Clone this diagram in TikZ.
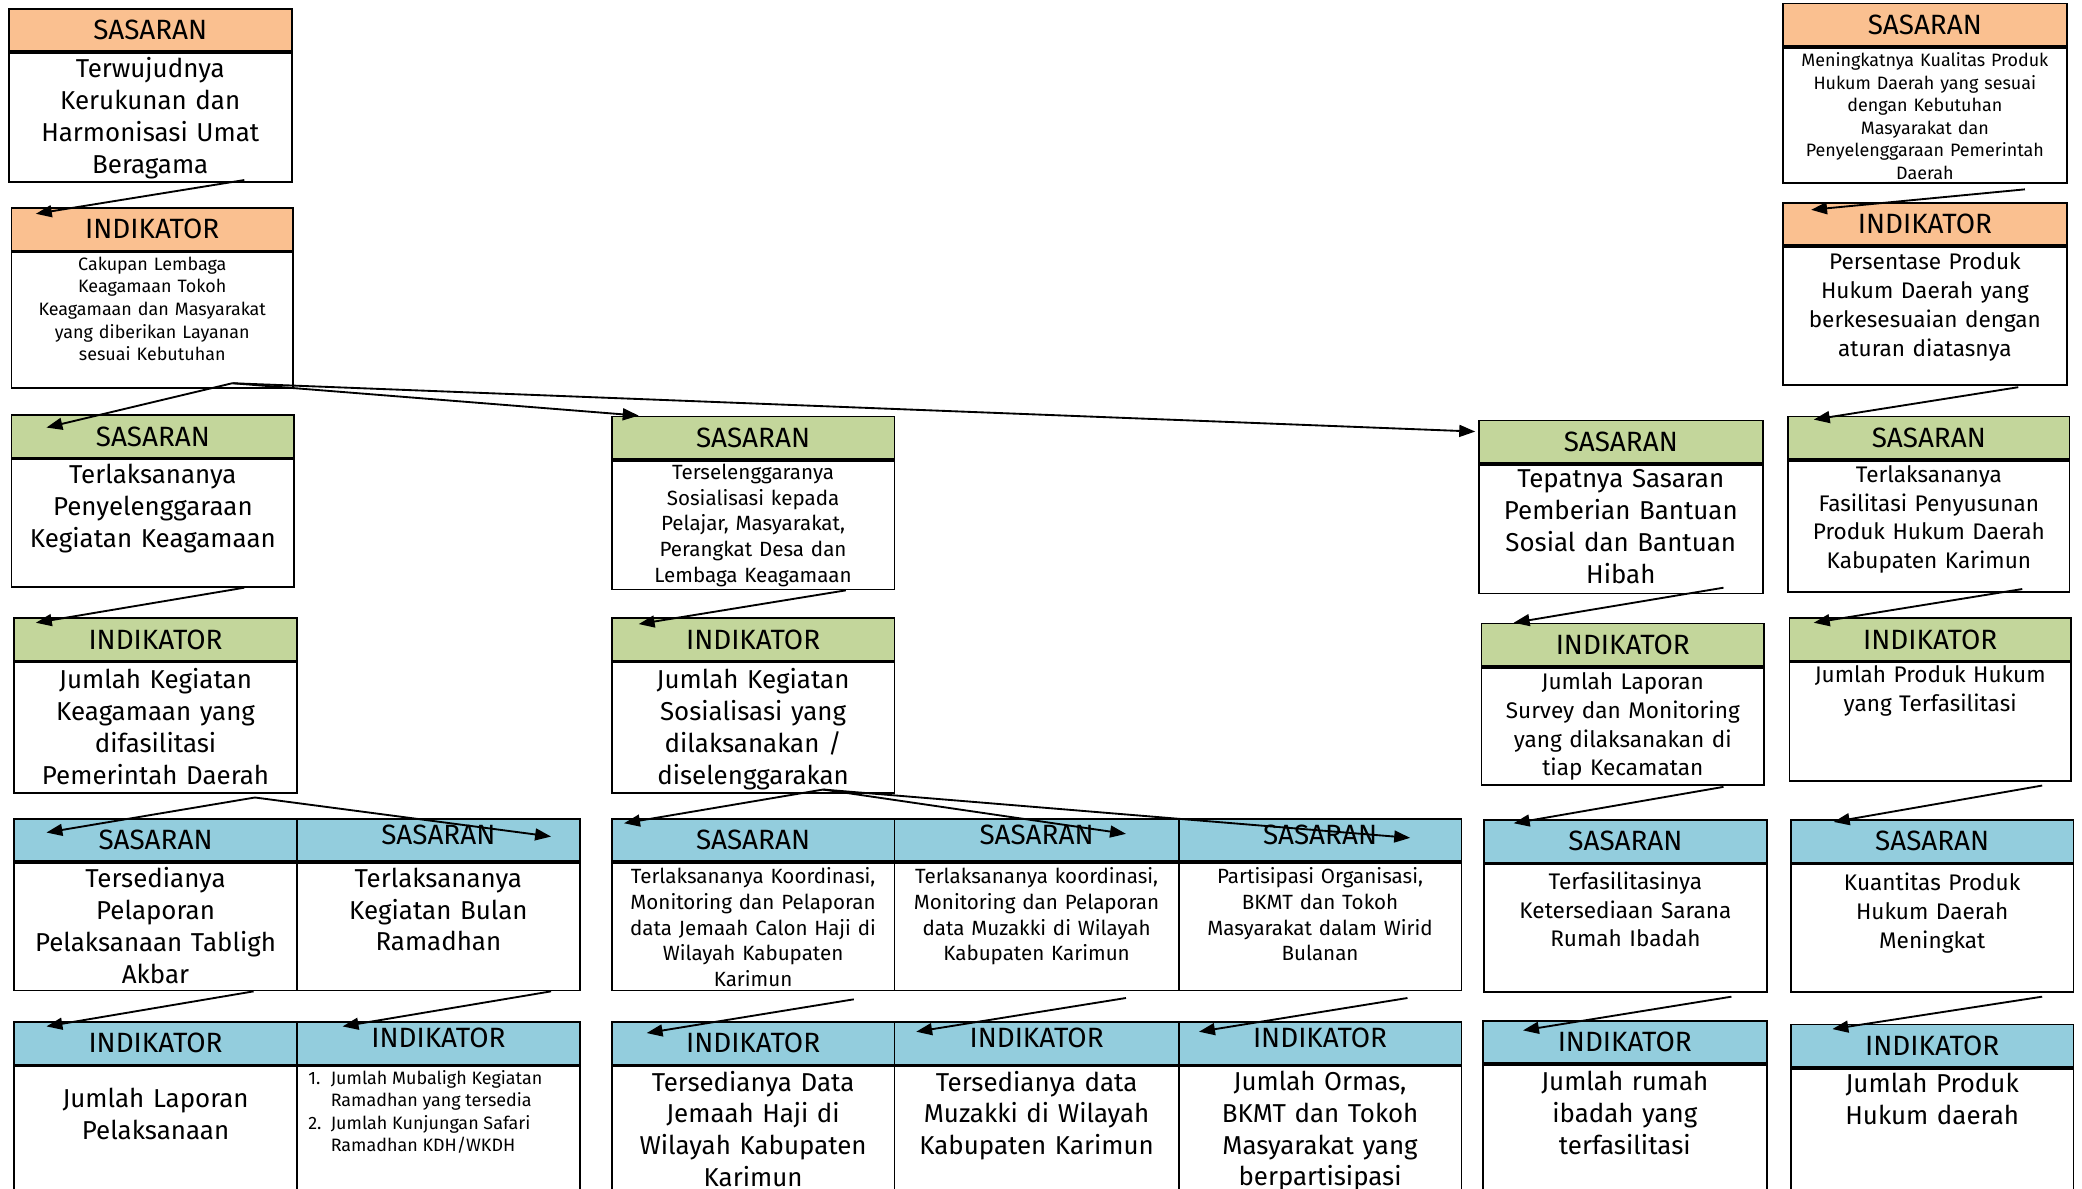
\documentclass[tikz,border=0pt]{standalone}
\usepackage{fontspec}
\setmainfont{Fira Sans}
\usetikzlibrary{arrows.meta}

\definecolor{oranye}{HTML}{FAC090}
\definecolor{hijau}{HTML}{C3D69B}
\definecolor{biru}{HTML}{93CDDD}

\newcommand{\hurufkepala}{\fontsize{21}{24}\selectfont}
\newcommand{\hurufbesar}{\fontsize{19.5}{24}\selectfont}
\newcommand{\hurufsedang}{\fontsize{17}{21.7}\selectfont}
\newcommand{\hurufkecil}{\fontsize{15.5}{19.3}\selectfont}
\newcommand{\hurufmini}{\fontsize{13.5}{17}\selectfont}
\newcommand{\naik}[1]{\raisebox{4pt}[\height][\depth]{#1}}

\begin{document}
\begin{tikzpicture}[x=1pt, y=-1pt,
    kepala/.style={draw, line width=1.3pt, anchor=north west, minimum height=32pt, minimum width=213pt, inner sep=0pt, font=\hurufkepala},
    badan/.style={draw, line width=1.3pt, anchor=north, minimum width=213pt, inner sep=0pt},
    teks/.style={anchor=north, align=center, text width=209pt, inner sep=0pt},
    panah/.style={line width=1.4pt, -{Triangle[length=12pt,width=9pt]}}]

    \useasboundingbox (0,0) rectangle (1568,895);

    % kolom kiri, oranye
    \node[kepala, fill=oranye] (os1) at (6,6) {SASARAN};
    \node[badan, minimum height=97pt] (os1b) at (os1.south) {};
    \node[teks, font=\hurufbesar] (os1t) at ([yshift=-4pt]os1b.north) {Terwujudnya\\Kerukunan dan\\Harmonisasi Umat\\Beragama};

    \node[kepala, fill=oranye, minimum width=212pt] (oi1) at (8,156) {INDIKATOR};
    \node[badan, minimum width=212pt, minimum height=102pt] (oi1b) at (oi1.south) {};
    \node[teks, font=\hurufmini] (oi1t) at ([yshift=-4pt]oi1b.north) {Cakupan Lembaga\\Keagamaan Tokoh\\Keagamaan dan Masyarakat\\yang diberikan Layanan\\sesuai Kebutuhan};

    % kolom kanan, oranye
    \node[kepala, fill=oranye, minimum width=214pt] (os2) at (1342,2) {SASARAN};
    \node[badan, minimum width=214pt, minimum height=102pt] (os2b) at (os2.south) {};
    \node[teks, font=\hurufmini] (os2t) at ([yshift=-4pt]os2b.north) {Meningkatnya Kualitas Produk\\Hukum Daerah yang sesuai\\dengan Kebutuhan\\Masyarakat dan\\Penyelenggaraan Pemerintah\\Daerah};

    \node[kepala, fill=oranye, minimum width=214pt] (oi2) at (1342,152) {INDIKATOR};
    \node[badan, minimum width=214pt, minimum height=104pt] (oi2b) at (oi2.south) {};
    \node[teks, font=\hurufsedang] (oi2t) at ([yshift=-5pt]oi2b.north) {Persentase Produk\\Hukum Daerah yang\\berkesesuaian dengan\\aturan diatasnya};

    % sasaran hijau
    \node[kepala, fill=hijau] (gs1) at (8,312) {SASARAN};
    \node[badan, minimum height=96pt] (gs1b) at (gs1.south) {};
    \node[teks, font=\hurufbesar] (gs1t) at ([yshift=-4pt]gs1b.north) {Terlaksananya\\Penyelenggaraan\\Kegiatan Keagamaan};

    \node[kepala, fill=hijau] (gs2) at (460,313) {SASARAN};
    \node[badan, minimum height=97pt] (gs2b) at (gs2.south) {};
    \node[teks, font=\hurufkecil] (gs2t) at ([yshift=-3pt]gs2b.north) {Terselenggaranya\\Sosialisasi kepada\\Pelajar, Masyarakat,\\Perangkat Desa dan\\Lembaga Keagamaan};

    \node[kepala, fill=hijau, minimum width=214pt] (gs3) at (1113,316) {SASARAN};
    \node[badan, minimum width=214pt, minimum height=97pt] (gs3b) at (gs3.south) {};
    \node[teks, font=\hurufbesar] (gs3t) at ([yshift=-4pt]gs3b.north) {Tepatnya Sasaran\\Pemberian Bantuan\\Sosial dan Bantuan\\Hibah};

    \node[kepala, fill=hijau, minimum width=212pt] (gs4) at (1346,313) {SASARAN};
    \node[badan, minimum width=212pt, minimum height=99pt] (gs4b) at (gs4.south) {};
    \node[teks, font=\hurufsedang] (gs4t) at ([yshift=-4pt]gs4b.north) {Terlaksananya\\Fasilitasi Penyusunan\\Produk Hukum Daerah\\Kabupaten Karimun};

    % indikator hijau
    \node[kepala, fill=hijau] (gi1) at (10,465) {INDIKATOR};
    \node[badan, minimum height=98pt] (gi1b) at (gi1.south) {};
    \node[teks, font=\hurufbesar] (gi1t) at ([yshift=-5pt]gi1b.north) {Jumlah Kegiatan\\Keagamaan yang\\difasilitasi\\Pemerintah Daerah};

    \node[kepala, fill=hijau] (gi2) at (460,465) {INDIKATOR};
    \node[badan, minimum height=98pt] (gi2b) at (gi2.south) {};
    \node[teks, font=\hurufbesar] (gi2t) at ([yshift=-5pt]gi2b.north) {Jumlah Kegiatan\\Sosialisasi yang\\dilaksanakan /\\diselenggarakan};

    \node[kepala, fill=hijau] (gi3) at (1115,469) {INDIKATOR};
    \node[badan, minimum height=88pt] (gi3b) at (gi3.south) {};
    \node[teks, font=\hurufsedang] (gi3t) at ([yshift=-4pt]gi3b.north) {Jumlah Laporan\\Survey dan Monitoring\\yang dilaksanakan di\\tiap Kecamatan};

    \node[kepala, fill=hijau, minimum width=212pt] (gi4) at (1347,465) {INDIKATOR};
    \node[badan, minimum width=212pt, minimum height=89pt] (gi4b) at (gi4.south) {};
    \node[teks, font=\hurufsedang] (gi4t) at ([yshift=-3pt]gi4b.north) {Jumlah Produk Hukum\\yang Terfasilitasi};

    % sasaran biru
    \node[kepala, fill=biru] (bs1) at (10,616) {SASARAN};
    \node[badan, minimum height=96pt] (bs1b) at (bs1.south) {};
    \node[teks, font=\hurufbesar] (bs1t) at ([yshift=-4pt]bs1b.north) {Tersedianya\\Pelaporan\\Pelaksanaan Tabligh\\Akbar};

    \node[kepala, fill=biru] (bs2) at (223,616) {\naik{SASARAN}};
    \node[badan, minimum height=96pt] (bs2b) at (bs2.south) {};
    \node[teks, font=\hurufbesar] (bs2t) at ([yshift=-4pt]bs2b.north) {Terlaksananya\\Kegiatan Bulan\\Ramadhan};

    \node[kepala, fill=biru] (bs3) at (460,616) {SASARAN};
    \node[badan, minimum height=96pt] (bs3b) at (bs3.south) {};
    \node[teks, font=\hurufkecil] (bs3t) at ([yshift=-4pt]bs3b.north) {Terlaksananya Koordinasi,\\Monitoring dan Pelaporan\\data Jemaah Calon Haji di\\Wilayah Kabupaten\\Karimun};

    \node[kepala, fill=biru, minimum width=214pt] (bs4) at (673,616) {\naik{SASARAN}};
    \node[badan, minimum width=214pt, minimum height=96pt] (bs4b) at (bs4.south) {};
    \node[teks, font=\hurufkecil] (bs4t) at ([yshift=-4pt]bs4b.north) {Terlaksananya koordinasi,\\Monitoring dan Pelaporan\\data Muzakki di Wilayah\\Kabupaten Karimun};

    \node[kepala, fill=biru] (bs5) at (887,616) {\naik{SASARAN}};
    \node[badan, minimum height=96pt] (bs5b) at (bs5.south) {};
    \node[teks, font=\hurufkecil] (bs5t) at ([yshift=-4pt]bs5b.north) {Partisipasi Organisasi,\\BKMT dan Tokoh\\Masyarakat dalam Wirid\\Bulanan};

    \node[kepala, fill=biru] (bs6) at (1117,617) {SASARAN};
    \node[badan, minimum height=96pt] (bs6b) at (bs6.south) {};
    \node[teks, font=\hurufsedang] (bs6t) at ([yshift=-6pt]bs6b.north) {Terfasilitasinya\\Ketersediaan Sarana\\Rumah Ibadah};

    \node[kepala, fill=biru] (bs7) at (1348,617) {SASARAN};
    \node[badan, minimum height=96pt] (bs7b) at (bs7.south) {};
    \node[teks, font=\hurufsedang] (bs7t) at ([yshift=-7pt]bs7b.north) {Kuantitas Produk\\Hukum Daerah\\Meningkat};

    % indikator biru (terpotong di bawah)
    \node[kepala, fill=biru] (bi1) at (10,769) {INDIKATOR};
    \node[badan, minimum height=130pt] (bi1b) at (bi1.south) {};
    \node[teks, font=\hurufbesar] (bi1t) at ([yshift=-17pt]bi1b.north) {Jumlah Laporan\\Pelaksanaan};

    \node[kepala, fill=biru] (bi2) at (223,769) {\naik{INDIKATOR}};
    \node[badan, minimum height=130pt] (bi2b) at (bi2.south) {};
    \node[anchor=north west, inner sep=0pt, font=\hurufmini] (bi2t) at ([xshift=9pt,yshift=-2pt]bi2b.north west) {%
        \begin{tabular}{@{}l@{\hspace{7pt}}l@{}}
        1. & Jumlah Mubaligh Kegiatan\\
           & Ramadhan yang tersedia\\
        2. & Jumlah Kunjungan Safari\\
           & Ramadhan KDH/WKDH
        \end{tabular}};

    \node[kepala, fill=biru] (bi3) at (460,769) {INDIKATOR};
    \node[badan, minimum height=130pt] (bi3b) at (bi3.south) {};
    \node[teks, font=\hurufbesar] (bi3t) at ([yshift=-4pt]bi3b.north) {Tersedianya Data\\Jemaah Haji di\\Wilayah Kabupaten\\Karimun};

    \node[kepala, fill=biru, minimum width=214pt] (bi4) at (673,769) {\naik{INDIKATOR}};
    \node[badan, minimum width=214pt, minimum height=130pt] (bi4b) at (bi4.south) {};
    \node[teks, font=\hurufbesar] (bi4t) at ([yshift=-4pt]bi4b.north) {Tersedianya data\\Muzakki di Wilayah\\Kabupaten Karimun};

    \node[kepala, fill=biru] (bi5) at (887,769) {\naik{INDIKATOR}};
    \node[badan, minimum height=130pt] (bi5b) at (bi5.south) {};
    \node[teks, font=\hurufbesar] (bi5t) at ([yshift=-4pt]bi5b.north) {Jumlah Ormas,\\BKMT dan Tokoh\\Masyarakat yang\\berpartisipasi};

    \node[kepala, fill=biru, minimum width=214pt] (bi6) at (1116,768) {INDIKATOR};
    \node[badan, minimum width=214pt, minimum height=130pt] (bi6b) at (bi6.south) {};
    \node[teks, font=\hurufbesar] (bi6t) at ([yshift=-5pt]bi6b.north) {Jumlah rumah\\ibadah yang\\terfasilitasi};

    \node[kepala, fill=biru] (bi7) at (1348,771) {INDIKATOR};
    \node[badan, minimum height=130pt] (bi7b) at (bi7.south) {};
    \node[teks, font=\hurufbesar] (bi7t) at ([yshift=-4pt]bi7b.north) {Jumlah Produk\\Hukum daerah};

    % panah
    \draw[panah] ([xshift=178pt,yshift=2pt]os1b.south west) -- ([xshift=19pt,yshift=-5pt]oi1.north west);
    \draw[panah] ([xshift=167pt,yshift=4pt]oi1b.south west) -- ([xshift=27pt,yshift=-10pt]gs1.north west);
    \draw[panah] ([xshift=167pt,yshift=4pt]oi1b.south west) -- ([xshift=21pt]gs2.north west);
    \draw[panah] ([xshift=167pt,yshift=4pt]oi1b.south west) -- ([xshift=-2pt,yshift=-9pt]gs3.north west);
    \draw[panah] ([xshift=183pt,yshift=-4pt]os2b.south west) -- ([xshift=22pt,yshift=-6pt]oi2.north west);
    \draw[panah] ([xshift=178pt,yshift=-1pt]oi2b.south west) -- ([xshift=20pt,yshift=-3pt]gs4.north west);

    \draw[panah] ([xshift=176pt]gs1b.south west) -- ([xshift=17pt,yshift=-4pt]gi1.north west);
    \draw[panah] ([xshift=177pt]gs2b.south west) -- ([xshift=21pt,yshift=-5pt]gi2.north west);
    \draw[panah] ([xshift=185pt,yshift=5pt]gs3b.south west) -- ([xshift=25pt]gi3.north west);
    \draw[panah] ([xshift=177pt,yshift=3pt]gs4b.south west) -- ([xshift=19pt,yshift=-4pt]gi4.north west);

    \draw[panah] ([xshift=182pt,yshift=-3pt]gi1b.south west) -- ([xshift=25pt,yshift=-11pt]bs1.north west);
    \draw[panah] ([xshift=182pt,yshift=-3pt]gi1b.south west) -- ([xshift=192pt,yshift=-14pt]bs2.north west);
    \draw[panah] ([xshift=160pt,yshift=3pt]gi2b.south west) -- ([xshift=10pt,yshift=-4pt]bs3.north west);
    \draw[panah] ([xshift=160pt,yshift=3pt]gi2b.south west) -- ([xshift=175pt,yshift=-12pt]bs4.north west);
    \draw[panah] ([xshift=160pt,yshift=3pt]gi2b.south west) -- ([xshift=175pt,yshift=-15pt]bs5.north west);
    \draw[panah] ([xshift=183pt,yshift=-1pt]gi3b.south west) -- ([xshift=23pt,yshift=-3pt]bs6.north west);
    \draw[panah] ([xshift=191pt,yshift=-3pt]gi4b.south west) -- ([xshift=33pt,yshift=-2pt]bs7.north west);

    \draw[panah] ([xshift=181pt]bs1b.south west) -- ([xshift=25pt,yshift=-4pt]bi1.north west);
    \draw[panah] ([xshift=192pt]bs2b.south west) -- ([xshift=35pt,yshift=-4pt]bi2.north west);
    \draw[panah] ([xshift=183pt,yshift=-6pt]bs3b.south west) -- ([xshift=27pt,yshift=-9pt]bi3.north west);
    \draw[panah] ([xshift=175pt,yshift=-5pt]bs4b.south west) -- ([xshift=17pt,yshift=-8pt]bi4.north west);
    \draw[panah] ([xshift=173pt,yshift=-5pt]bs5b.south west) -- ([xshift=16pt,yshift=-8pt]bi5.north west);
    \draw[panah] ([xshift=187pt,yshift=-3pt]bs6b.south west) -- ([xshift=31pt,yshift=-8pt]bi6.north west);
    \draw[panah] ([xshift=190pt,yshift=-3pt]bs7b.south west) -- ([xshift=32pt,yshift=-4pt]bi7.north west);
\end{tikzpicture}
\end{document}
